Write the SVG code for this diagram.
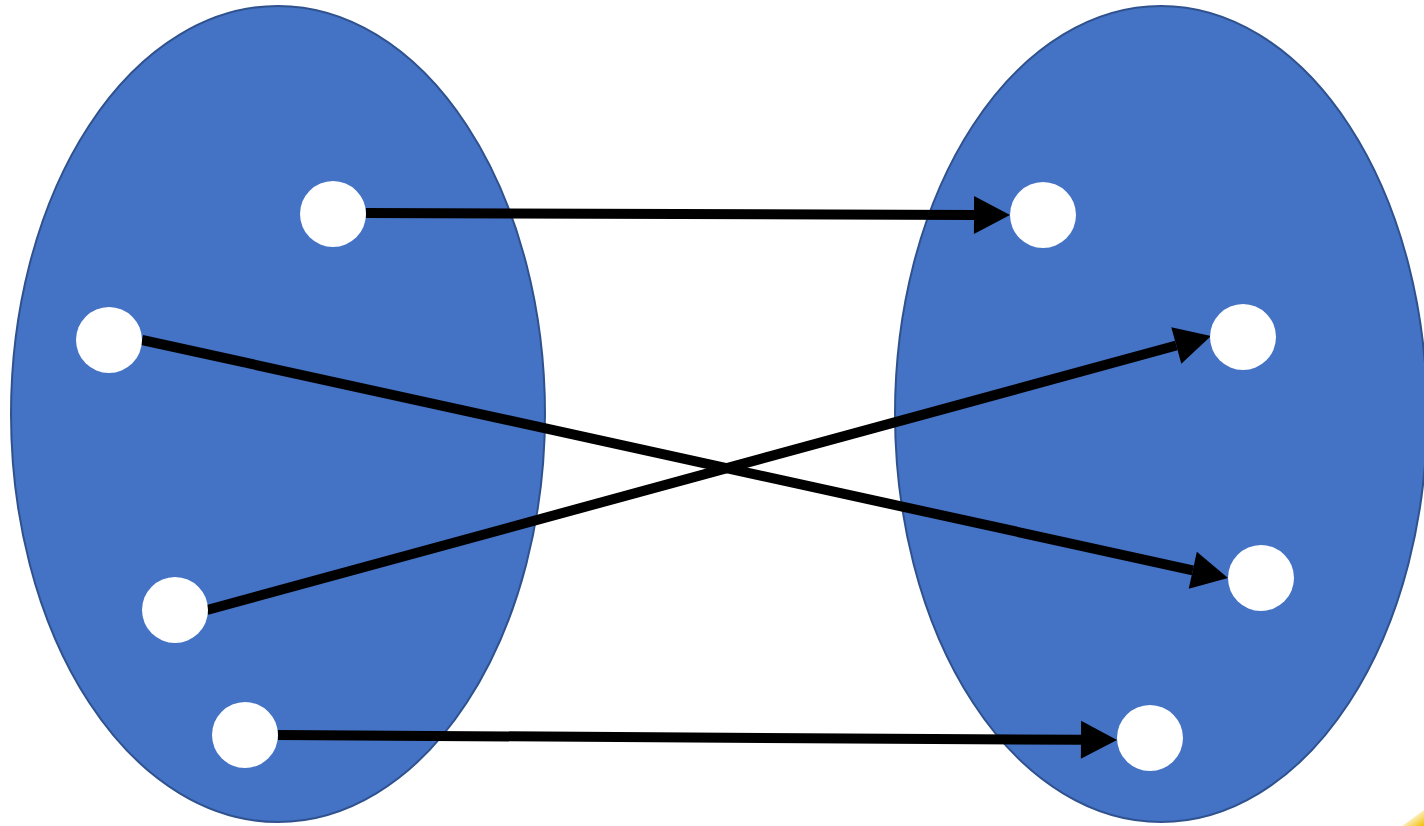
<svg xmlns="http://www.w3.org/2000/svg" width="1424" height="826" viewBox="0 0 1424 826">
  <style>
    .set { fill: #4472C4; stroke: #2F528F; stroke-width: 2; }
    .elem { fill: #FFFFFF; }
    .edge { stroke: #000000; stroke-width: 10; fill: none; }
  </style>
  <defs>
    <marker id="head" markerUnits="userSpaceOnUse" markerWidth="38" markerHeight="40" refX="0" refY="19" orient="auto" overflow="visible">
      <path d="M0,0 L36,19 L0,38 Z" fill="#000000"/>
    </marker>
    <linearGradient id="corner" x1="0" y1="0" x2="1" y2="1">
      <stop offset="0.3" stop-color="#FFFFFF"/>
      <stop offset="1" stop-color="#F2BE00"/>
    </linearGradient>
  </defs>

  <rect width="1424" height="826" fill="#FFFFFF"/>

  <!-- domain and codomain sets -->
  <g id="setA">
    <ellipse class="set" cx="278" cy="414" rx="267" ry="408"/>
  </g>
  <g id="setB">
    <ellipse class="set" cx="1161" cy="414" rx="266" ry="408"/>
  </g>

  <!-- mapping arrows -->
  <g id="connectors">
    <line class="edge" x1="366" y1="213" x2="974" y2="215" marker-end="url(#head)"/>
    <line class="edge" x1="142" y1="340" x2="1192.8" y2="570.3" marker-end="url(#head)"/>
    <line class="edge" x1="207" y1="610" x2="1176.3" y2="345.5" marker-end="url(#head)"/>
    <line class="edge" x1="278" y1="735" x2="1081" y2="739.8" marker-end="url(#head)"/>
  </g>

  <!-- elements of set A -->
  <g id="a1"><circle class="elem" cx="333" cy="214" r="33"/></g>
  <g id="a2"><circle class="elem" cx="109" cy="340" r="33"/></g>
  <g id="a3"><circle class="elem" cx="175" cy="610" r="33"/></g>
  <g id="a4"><circle class="elem" cx="245" cy="735" r="33"/></g>

  <!-- elements of set B -->
  <g id="b1"><circle class="elem" cx="1043" cy="215" r="33"/></g>
  <g id="b2"><circle class="elem" cx="1243" cy="337" r="33"/></g>
  <g id="b3"><circle class="elem" cx="1261" cy="578" r="33"/></g>
  <g id="b4"><circle class="elem" cx="1150" cy="738" r="33"/></g>

  <!-- small accent in the bottom-right corner -->
  <polygon points="1402,826 1424,810 1424,826" fill="url(#corner)"/>
</svg>
